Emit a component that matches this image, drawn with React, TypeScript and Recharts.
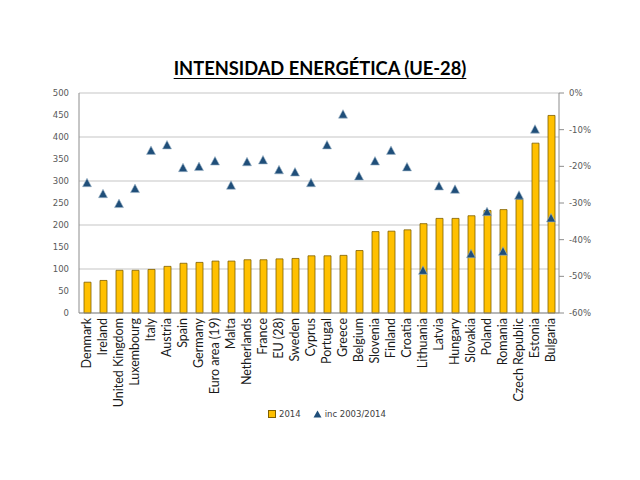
import { ComposedChart, Bar, Line, XAxis, YAxis, CartesianGrid } from 'recharts';

const countries = [
  'Denmark', 'Ireland', 'United Kingdom', 'Luxembourg', 'Italy', 'Austria', 'Spain', 'Germany',
  'Euro area (19)', 'Malta', 'Netherlands', 'France', 'EU (28)', 'Sweden', 'Cyprus', 'Portugal',
  'Greece', 'Belgium', 'Slovenia', 'Finland', 'Croatia', 'Lithuania', 'Latvia', 'Hungary',
  'Slovakia', 'Poland', 'Romania', 'Czech Republic', 'Estonia', 'Bulgaria',
];

// intensidad 2014
const values2014 = [
  70, 74, 97, 97, 99, 106, 113, 115, 118, 118, 121, 121, 123, 124, 130, 130,
  131, 142, 185, 186, 189, 203, 215, 215, 221, 233, 235, 258, 386, 449,
];

// variación 2003/2014 (%)
const inc2003_2014 = [
  -24.6, -27.6, -30.3, -26.2, -15.8, -14.3, -20.5, -20.2, -18.7, -25.3, -18.9, -18.4, -21.1, -21.7, -24.6, -14.3,
  -5.9, -22.8, -18.7, -15.8, -20.3, -48.5, -25.5, -26.4, -44.0, -32.5, -43.3, -28.0, -10.0, -34.2,
];

const leftTicks = [0, 50, 100, 150, 200, 250, 300, 350, 400, 450, 500];
const rightTicks = [-60, -50, -40, -30, -20, -10, 0];

const data = countries.map((name, i) => ({
  name,
  v2014: values2014[i],
  inc: inc2003_2014[i],
}));

const axisGray = '#8c8c8c';
const tickText = { fontFamily: 'DejaVu Sans', fontSize: 8.5, fill: '#595959' };

const CategoryTick = (props: any) => {
  const { x, y, payload } = props;
  return (
    <g transform={`translate(${x},${y})`}>
      <text
        transform="rotate(-90)"
        textAnchor="end"
        dy="0.35em"
        fontFamily="Lato"
        fontSize={12.5}
        fill="#1a1a1a"
      >
        {payload.value}
      </text>
    </g>
  );
};

const Triangle = (props: any) => {
  const { cx, cy, index } = props;
  if (cx == null || cy == null) return <g key={index} />;
  return (
    <polygon
      key={index}
      points={`${cx},${cy - 5} ${cx + 4.5},${cy + 3.5} ${cx - 4.5},${cy + 3.5}`}
      fill="#1F4E79"
      stroke="#9fb7c9"
      strokeWidth={0.6}
    />
  );
};

export default function App() {
  return (
    <div style={{ position: 'absolute', left: 0, top: 0, width: 640, height: 480, background: '#fff' }}>
      <div
        style={{
          position: 'absolute',
          top: 57,
          left: 0,
          width: 640,
          textAlign: 'center',
          fontFamily: 'Lato',
          fontWeight: 700,
          fontSize: 18.3,
          color: '#000',
          textDecoration: 'underline',
          textUnderlineOffset: 3,
        }}
      >
        INTENSIDAD ENERGÉTICA (UE-28)
      </div>
      <ComposedChart
        width={640}
        height={480}
        data={data}
        margin={{ top: 93, right: 36, bottom: 112, left: 39 }}
        barCategoryGap={0}
      >
        <CartesianGrid vertical={false} stroke="#d9d9d9" strokeWidth={1.5} yAxisId="left" />
        <XAxis
          dataKey="name"
          interval={0}
          height={55}
          tick={<CategoryTick />}
          tickLine={false}
          tickSize={0}
          tickMargin={5}
          axisLine={{ stroke: axisGray }}
        />
        <YAxis
          yAxisId="left"
          orientation="left"
          width={40}
          domain={[0, 500]}
          ticks={leftTicks}
          tick={tickText}
          tickLine={false}
          tickMargin={4}
          axisLine={{ stroke: axisGray }}
        />
        <YAxis
          yAxisId="right"
          orientation="right"
          width={45}
          domain={[-60, 0]}
          ticks={rightTicks}
          tickFormatter={(v: number) => `${v}%`}
          tick={tickText}
          tickLine={{ stroke: axisGray }}
          tickSize={5}
          tickMargin={5}
          axisLine={{ stroke: axisGray }}
        />
        <Bar
          yAxisId="left"
          dataKey="v2014"
          barSize={7}
          fill="#FFC000"
          stroke="#7F6000"
          strokeWidth={0.8}
          isAnimationActive={false}
        />
        <Line
          yAxisId="right"
          dataKey="inc"
          stroke="none"
          dot={Triangle}
          activeDot={false}
          isAnimationActive={false}
        />
      </ComposedChart>
      <div
        style={{
          position: 'absolute',
          top: 409,
          left: 268,
          display: 'flex',
          alignItems: 'center',
          fontFamily: 'DejaVu Sans',
          fontSize: 8.5,
          color: '#404040',
        }}
      >
        <span style={{ display: 'inline-block', width: 6, height: 6, background: '#FFC000', border: '0.5px solid #7F6000', marginRight: 3 }} />
        <span>2014</span>
        <svg width={9} height={8} style={{ marginLeft: 12, marginRight: 3 }}>
          <polygon points="4.5,0.5 8.5,7.5 0.5,7.5" fill="#1F4E79" />
        </svg>
        <span>inc 2003/2014</span>
      </div>
    </div>
  );
}
